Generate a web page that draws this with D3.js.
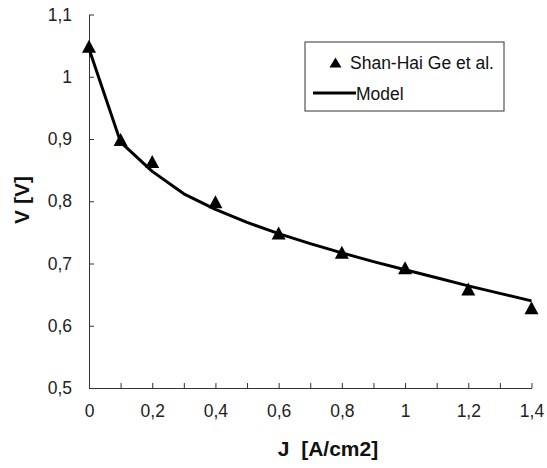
<!DOCTYPE html>
<html>
<head>
<meta charset="utf-8">
<script src="https://cdn.jsdelivr.net/npm/d3@7"></script>
<style>
  html, body { margin: 0; padding: 0; background: #fff; }
  svg { display: block; font-family: "Liberation Sans", Arial, Helvetica, sans-serif; }
</style>
</head>
<body>
<svg id="chart" width="547" height="468"></svg>
<script>
// Measured polarization data (Shan-Hai Ge et al.)
const measuredJ = [0, 0.1, 0.2, 0.4, 0.6, 0.8, 1.0, 1.2, 1.4];
const measuredV = [1.049, 0.899, 0.864, 0.799, 0.749, 0.718, 0.693, 0.659, 0.629];

// Model curve
const modelJ = [0, 0.1, 0.2, 0.3, 0.4, 0.5, 0.6, 0.7, 0.8, 0.9, 1.0, 1.1, 1.2, 1.3, 1.4];
const modelV = [1.045, 0.895, 0.848, 0.812, 0.787, 0.766, 0.748, 0.732, 0.717, 0.703, 0.690, 0.677, 0.664, 0.652, 0.640];

const xTicks = [0, 0.1, 0.2, 0.3, 0.4, 0.5, 0.6, 0.7, 0.8, 0.9, 1.0, 1.1, 1.2, 1.3, 1.4];
const xLabels = [0, 0.2, 0.4, 0.6, 0.8, 1.0, 1.2, 1.4];
const yTicks = [0.5, 0.6, 0.7, 0.8, 0.9, 1.0, 1.1];

const legendLabels = ["Shan-Hai Ge et al.", "Model"];

const svg = d3.select("#chart");
const plotLeft = 89, plotRight = 531.5, plotTop = 14.5, plotBottom = 388;

const x = d3.scaleLinear().domain([0, 1.4]).range([plotLeft, plotRight]);
const y = d3.scaleLinear().domain([0.5, 1.1]).range([plotBottom, plotTop]);

const fmt = d => String(+d.toFixed(1)).replace(".", ",");
const axisColor = "#333";
const labelSize = 17.5;

// Triangle marker, centred on its bounding box
const triangle = (w, h) => ({
  draw(ctx) {
    ctx.moveTo(0, -h / 2);
    ctx.lineTo(w / 2, h / 2);
    ctx.lineTo(-w / 2, h / 2);
    ctx.closePath();
  }
});

// X axis: ticks point inward, labels every 0.2
const gx = svg.append("g").attr("transform", `translate(0,${plotBottom})`)
  .call(d3.axisBottom(x).tickValues(xTicks).tickSizeInner(-5).tickSizeOuter(0)
    .tickFormat(d => xLabels.some(v => Math.abs(v - d) < 1e-9) ? fmt(d) : ""));
gx.select(".domain").attr("stroke", axisColor);
gx.selectAll(".tick line").attr("stroke", axisColor);
gx.selectAll(".tick text").attr("y", 29).attr("dy", 0).attr("font-size", labelSize).attr("fill", "#222")
  .attr("font-family", "Liberation Sans, Arial, sans-serif");

// Y axis
const gy = svg.append("g").attr("transform", `translate(${plotLeft},0)`)
  .call(d3.axisLeft(y).tickValues(yTicks).tickSizeInner(-5).tickSizeOuter(0).tickFormat(fmt));
gy.select(".domain").attr("stroke", axisColor);
gy.selectAll(".tick line").attr("stroke", axisColor);
gy.selectAll(".tick text").attr("x", -17).attr("font-size", labelSize).attr("fill", "#222")
  .attr("font-family", "Liberation Sans, Arial, sans-serif");

// Axis titles
svg.append("text").attr("x", 328).attr("y", 456).attr("text-anchor", "middle")
  .attr("font-size", 21).attr("font-weight", "bold").attr("fill", "#111")
  .attr("xml:space", "preserve").text("J  [A/cm2]");
svg.append("text").attr("transform", "translate(29,200) rotate(-90)").attr("text-anchor", "middle")
  .attr("font-size", 21).attr("font-weight", "bold").attr("fill", "#111").text("V [V]");

// Model line
const line = d3.line().x(d => x(d[0])).y(d => y(d[1]));
svg.append("path").datum(modelJ.map((j, i) => [j, modelV[i]]))
  .attr("d", line).attr("fill", "none").attr("stroke", "#000").attr("stroke-width", 3)
  .attr("stroke-linejoin", "round");

// Measured points as triangles
const tri = d3.symbol().type(triangle(14, 13));
svg.append("g").selectAll("path").data(measuredJ.map((j, i) => [j, measuredV[i]]))
  .join("path")
  .attr("d", tri)
  .attr("transform", d => `translate(${x(d[0])},${y(d[1])})`)
  .attr("fill", "#000");

// Legend
const lg = svg.append("g");
lg.append("rect").attr("x", 305).attr("y", 42).attr("width", 199).attr("height", 69)
  .attr("fill", "#fff").attr("stroke", "#333").attr("stroke-width", 1);
lg.append("path").attr("d", d3.symbol().type(triangle(12, 10)))
  .attr("transform", "translate(335.5,62.5)").attr("fill", "#000");
lg.append("text").attr("x", 350).attr("y", 68.5).attr("font-size", labelSize).attr("fill", "#111")
  .text(legendLabels[0]);
lg.append("line").attr("x1", 313).attr("x2", 356).attr("y1", 93).attr("y2", 93)
  .attr("stroke", "#000").attr("stroke-width", 3);
lg.append("text").attr("x", 356).attr("y", 100).attr("font-size", labelSize).attr("fill", "#111")
  .text(legendLabels[1]);
</script>
</body>
</html>
